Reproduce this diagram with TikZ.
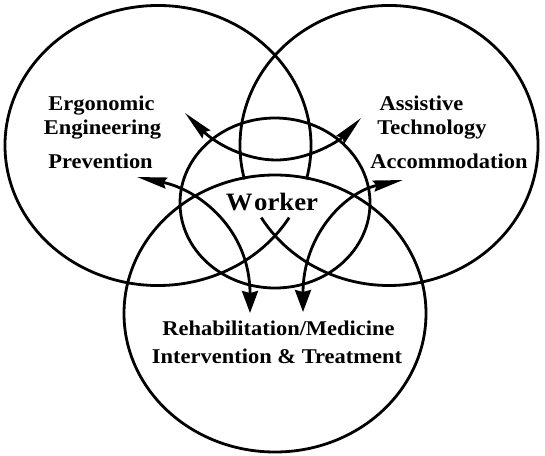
\documentclass[tikz,border=0pt]{standalone}
\usepackage{fontspec}
\setmainfont[FakeStretch=1.07]{Liberation Serif}
\usetikzlibrary{arrows.meta}
\tikzset{
  ring/.style={line width=2.8pt},
  bothsmall/.style={line width=2.8pt, {Stealth[length=30pt,width=11pt,inset=3pt]}-{Stealth[length=30pt,width=11pt,inset=3pt]}},
  smallbig/.style={line width=2.8pt, {Stealth[length=30pt,width=11pt,inset=3pt]}-{Stealth[length=22pt,width=16pt,inset=2pt]}},
  lbl/.style={anchor=base, inner sep=0pt, font=\fontsize{21}{24}\selectfont\bfseries},
  wlbl/.style={anchor=base, inner sep=0pt, font=\fontsize{25}{28}\selectfont\bfseries},
}
\begin{document}
\begin{tikzpicture}[x=1pt,y=-1pt]
\useasboundingbox (0,0) rectangle (545,455);
% circles
\draw[ring] ([shift={(31:153 and 140)}]158,145.5) arc[start angle=31,end angle=374,x radius=153,y radius=140];
\draw[ring] ([shift={(166:149 and 140)}]389,145.5) arc[start angle=166,end angle=509,x radius=149,y radius=140];
\draw[ring] (275,313.5) ellipse[x radius=151, y radius=138.5];
\draw[ring] (275,203) ellipse[x radius=95, y radius=85];
% labels
\node[lbl] (ergo) at (101.5,110) {Ergonomic};
\node[lbl] (engi) at (102.5,134) {Engineering};
\node[lbl] (prev) at (100.5,168) {Prevention};
\node[lbl] (assi) at (421.5,110) {Assistive};
\node[lbl] (tech) at (432,134) {Technology};
\node[lbl] (acco) at (449,168) {Accommodation};
\node[lbl] (rehab) at (278.5,335) {Rehabilitation/Medicine};
\node[lbl] (inter) at (277,363) {Intervention \& Treatment};
\node[wlbl] (worker) at (272,210) {W\kern1.5pt orker};
% connector ends
\coordinate (ergTip) at (185,113);
\coordinate (assTip) at (361,118);
\coordinate (uLow) at (276,160);
\coordinate (prevTip) at (137,177);
\coordinate (accTip) at (403,180);
\coordinate (rehL) at (250,313);
\coordinate (rehR) at (303,312);
% connectors
\draw[bothsmall] (ergTip) .. controls (215,143) and (245,160) .. (uLow) .. controls (310,160) and (340,140) .. (assTip);
\draw[smallbig] (prevTip) .. controls (200,190) and (250,230) .. (rehL);
\draw[smallbig] (accTip) .. controls (345,192) and (303,235) .. (rehR);
\end{tikzpicture}
\end{document}
